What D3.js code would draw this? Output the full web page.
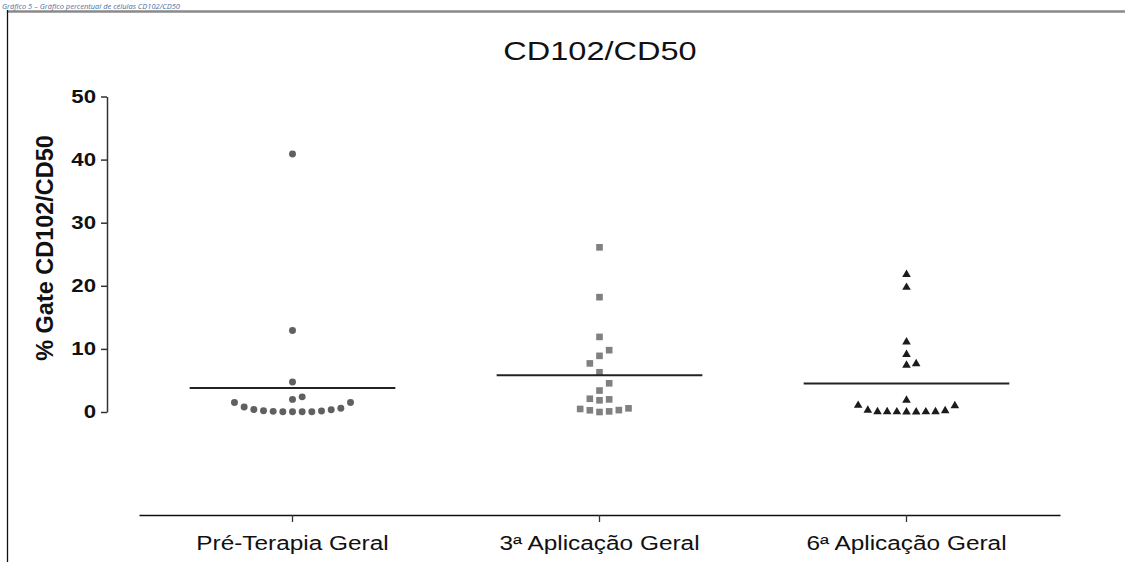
<!DOCTYPE html>
<html><head><meta charset="utf-8">
<script src="https://cdn.jsdelivr.net/npm/d3@7"></script>
<style>html,body{margin:0;padding:0;background:#fff;} svg{display:block;}</style>
</head><body>
<svg id="chart" width="1125" height="562"></svg>
<script>
// ---------- DATA ----------
const categories = ["Pré-Terapia Geral", "3ª Aplicação Geral", "6ª Aplicação Geral"];
const preTerapiaGeral = [40.9, 12.9, 4.75, 2.4, 2.0, 1.5, 1.5, 0.8, 0.6, 0.4, 0.35, 0.2, 0.15, 0.1, 0.05, 0.05, 0.05, 0.05];
const aplicacao3Geral = [26.1, 18.2, 11.9, 9.8, 8.9, 7.7, 6.3, 4.55, 3.4, 2.1, 2.0, 1.85, 0.58, 0.48, 0.3, 0.27, 0.1, 0.0];
const aplicacao6Geral = [21.8, 19.75, 11.1, 9.1, 7.65, 7.4, 1.85, 1.05, 1.0, 0.27, 0.2, 0.05, 0.05, 0.03, 0.02, 0.02, 0.0, 0.0];
const yTickValues = [0, 10, 20, 30, 40, 50];
const chartTitle = "CD102/CD50";
const yAxisTitle = "% Gate CD102/CD50";
const captionText = "Gráfico 5 – Gráfico percentual de células CD102/CD50";

// ---------- SETUP ----------
const svg = d3.select("#chart");
const FONT = "'Liberation Sans', Arial, sans-serif";
const x = d3.scaleBand().domain(categories).range([139, 1060]).padding(0);
const y = d3.scaleLinear().domain([0, 50]).range([412, 96.5]);
const series = [
  { name: categories[0], values: preTerapiaGeral, symbol: d3.symbolCircle, size: 38, color: "#606060" },
  { name: categories[1], values: aplicacao3Geral, symbol: d3.symbolSquare, size: 44, color: "#808080" },
  { name: categories[2], values: aplicacao6Geral, symbol: d3.symbolTriangle, size: 32, color: "#1c1c1c" }
];

function stretch(sel, k) {
  sel.each(function () {
    const len = this.getComputedTextLength();
    d3.select(this).attr("textLength", len * k).attr("lengthAdjust", "spacingAndGlyphs");
  });
}

// ---------- FRAME ----------
svg.append("line").attr("x1", 7).attr("x2", 1125).attr("y1", 11.5).attr("y2", 11.5)
  .attr("stroke", "#8a8a8a").attr("stroke-width", 2.5);
svg.append("line").attr("x1", 7.5).attr("x2", 7.5).attr("y1", 10).attr("y2", 562)
  .attr("stroke", "#111").attr("stroke-width", 1.3);

// caption above the frame
svg.append("text").attr("x", 2).attr("y", 8.6).text(captionText)
  .attr("font-family", "'Open Sans', sans-serif").attr("font-style", "italic")
  .attr("font-size", 7.5).attr("fill", "#4f6fa0");

// ---------- TITLE ----------
svg.append("text").attr("x", 600).attr("y", 60).attr("text-anchor", "middle")
  .attr("font-family", FONT).attr("font-size", 26).attr("fill", "#111")
  .text(chartTitle).call(stretch, 1.25);

// ---------- Y AXIS ----------
const gy = svg.append("g").attr("transform", "translate(107,0)")
  .call(d3.axisLeft(y).tickValues(yTickValues).tickSize(6).tickPadding(5).tickSizeOuter(0));
gy.select(".domain").attr("stroke", "#333").attr("stroke-width", 1.5);
gy.selectAll(".tick line").attr("stroke", "#333").attr("stroke-width", 1.5);
gy.selectAll(".tick text").attr("font-family", FONT).attr("font-weight", "bold")
  .attr("font-size", 18.5).attr("fill", "#111").call(stretch, 1.2);

svg.append("text")
  .attr("transform", "translate(53,248) rotate(-90)")
  .attr("text-anchor", "middle")
  .attr("font-family", FONT).attr("font-weight", "bold").attr("font-size", 23).attr("fill", "#111")
  .text(yAxisTitle).call(stretch, 1.02);

// ---------- X AXIS ----------
const gx = svg.append("g").attr("transform", "translate(0,515)")
  .call(d3.axisBottom(x).tickSize(7).tickPadding(14).tickSizeOuter(0));
gx.select(".domain").attr("stroke", "#111").attr("stroke-width", 1.5);
gx.selectAll(".tick line").attr("stroke", "#333").attr("stroke-width", 1.3);
gx.selectAll(".tick text").attr("font-family", FONT).attr("font-size", 19.5).attr("fill", "#111")
  .call(stretch, 1.25);

// ---------- POINTS (column scatter) ----------
function swarm(values, cx) {
  const slot = 9.67, T = 9.5, eps = 0.5;
  const placed = [];
  const sorted = values.slice().sort((a, b) => a - b);
  return sorted.map(v => {
    const py = y(v);
    const nearest = s => {
      let m = Infinity;
      placed.forEach(p => { if (p.s === s) m = Math.min(m, Math.abs(p.py - py)); });
      return m;
    };
    let chosen = 0;
    if (nearest(0) < T) {
      for (let k = 1; k < 60; k++) {
        const dr = nearest(k), dl = nearest(-k);
        const fr = dr >= T, fl = dl >= T;
        if (fr && fl) { chosen = (dl > dr + eps) ? -k : k; break; }
        if (fr) { chosen = k; break; }
        if (fl) { chosen = -k; break; }
      }
    }
    placed.push({ s: chosen, py });
    return { v, x: cx + chosen * slot, y: py };
  });
}

series.forEach(s => {
  const cx = x(s.name) + x.bandwidth() / 2;
  const pts = swarm(s.values, cx);
  svg.append("g").selectAll("path").data(pts).join("path")
    .attr("d", d3.symbol().type(s.symbol).size(s.size))
    .attr("transform", d => `translate(${d.x},${d.y})`)
    .attr("fill", s.color);
  const m = d3.mean(s.values);
  const half = x.bandwidth() * 0.335;
  svg.append("line").attr("x1", cx - half).attr("x2", cx + half)
    .attr("y1", y(m)).attr("y2", y(m))
    .attr("stroke", "#222").attr("stroke-width", 2);
});
</script>
</body></html>
